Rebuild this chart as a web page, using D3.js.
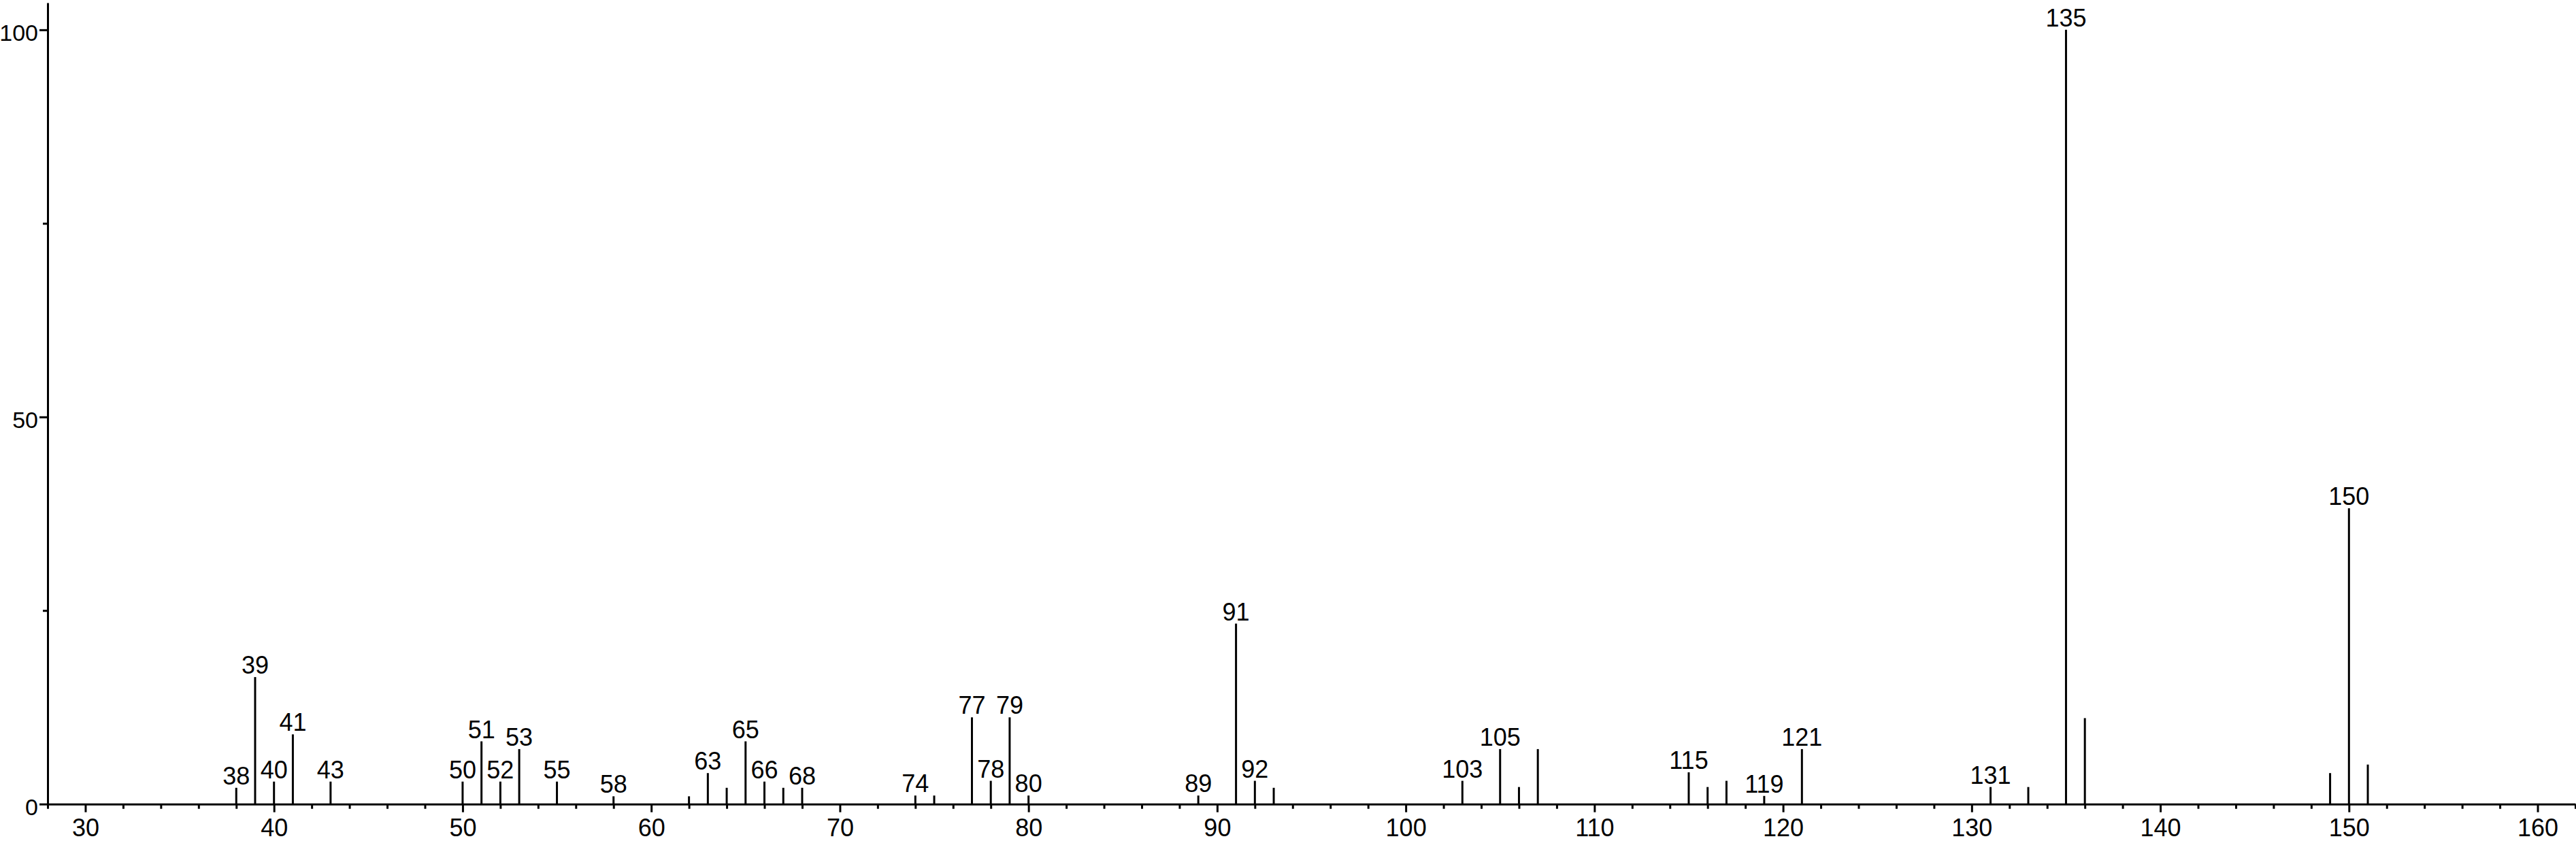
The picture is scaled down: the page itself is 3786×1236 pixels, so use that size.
<!DOCTYPE html>
<html>
<head>
<meta charset="utf-8">
<script src="https://cdn.jsdelivr.net/npm/d3@7"></script>
<style>
  html, body { margin: 0; padding: 0; background: #fff; }
  svg { display: block; }
  text { font-family: "Liberation Sans", Arial, Helvetica, sans-serif; fill: #000; }
</style>
</head>
<body>
<svg id="chart" width="3786" height="1236"></svg>
<script>
// m/z values of the peaks
const mz = [38, 39, 40, 41, 43, 50, 51, 52, 53, 55, 58, 62, 63, 64, 65, 66, 67, 68,
            74, 75, 77, 78, 79, 80, 89, 91, 92, 93, 103, 105, 106, 107, 115, 116, 117,
            119, 121, 131, 133, 135, 136, 149, 150, 151];
// relative intensities (%)
const intensity = [2.1, 16.4, 2.9, 9.0, 2.9, 2.9, 8.1, 2.9, 7.1, 2.9, 1.0, 1.0, 4.0, 2.1, 8.1, 2.9, 2.1, 2.1,
                   1.1, 1.1, 11.2, 3.0, 11.2, 1.1, 1.1, 23.3, 3.0, 2.1, 3.0, 7.1, 2.2, 7.1, 4.1, 2.2, 3.0,
                   1.05, 7.1, 2.2, 2.2, 100, 11.1, 4.0, 38.2, 5.1];
// peaks that carry a text label
const labeledPeaks = [38, 39, 40, 41, 43, 50, 51, 52, 53, 55, 58, 63, 65, 66, 68, 74, 77, 78, 79, 80,
                      89, 91, 92, 103, 105, 115, 119, 121, 131, 135, 150];
// axis ticks
const xMajorTicks = [30, 40, 50, 60, 70, 80, 90, 100, 110, 120, 130, 140, 150, 160];
const xMinorTicks = [];
for (let v = 28; v <= 162; v += 2) if (v % 10 !== 0) xMinorTicks.push(v);
const yMajorTicks = [0, 50, 100];
const yMinorTicks = [25, 75];
const xDomain = [28, 162];
const yDomain = [0, 103.5];

const peaks = mz.map((m, i) => ({ mz: m, v: intensity[i], label: labeledPeaks.includes(m) }));

const svg = d3.select("#chart");
const plotLeft = 70, plotRight = 3785, plotTop = 4, plotBottom = 1181.7;

const x = d3.scaleLinear().domain(xDomain).range([plotLeft, plotRight]);
const y = d3.scaleLinear().domain(yDomain).range([plotBottom, plotTop]);

const FS = 36;
const FS_Y = 34;

// bars (sticks)
svg.append("g").selectAll("line").data(peaks).join("line")
  .attr("x1", d => x(d.mz)).attr("x2", d => x(d.mz))
  .attr("y1", y(0)).attr("y2", d => y(d.v))
  .attr("stroke", "#000").attr("stroke-width", 3);

// peak labels
svg.append("g").selectAll("text").data(peaks.filter(d => d.label)).join("text")
  .attr("x", d => x(d.mz)).attr("y", d => y(d.v) - 5)
  .attr("text-anchor", "middle")
  .style("font-size", FS + "px")
  .text(d => d.mz);

function styleAxis(g, fs) {
  g.selectAll("path.domain").attr("stroke", "#000").attr("stroke-width", 3);
  g.selectAll(".tick line").attr("stroke", "#000").attr("stroke-width", 3);
  g.selectAll(".tick text").style("font-size", fs + "px")
    .style("font-family", '"Liberation Sans", Arial, Helvetica, sans-serif').attr("fill", "#000");
}

// x axis minor
svg.append("g").attr("transform", `translate(0,${plotBottom})`)
  .call(d3.axisBottom(x).tickValues(xMinorTicks).tickSize(7).tickFormat(""))
  .call(g => g.select("path.domain").remove())
  .call(styleAxis, FS);
// x axis major
svg.append("g").attr("transform", `translate(0,${plotBottom})`)
  .call(d3.axisBottom(x).tickValues(xMajorTicks).tickSizeInner(12).tickSizeOuter(0).tickPadding(10).tickFormat(d3.format("d")))
  .call(styleAxis, FS);

// y axis minor
svg.append("g").attr("transform", `translate(${plotLeft},0)`)
  .call(d3.axisLeft(y).tickValues(yMinorTicks).tickSize(7).tickFormat(""))
  .call(g => g.select("path.domain").remove())
  .call(styleAxis, FS_Y);
// y axis major
svg.append("g").attr("transform", `translate(${plotLeft},0)`)
  .call(d3.axisLeft(y).tickValues(yMajorTicks).tickSizeInner(12).tickSizeOuter(0).tickPadding(2).tickFormat(d3.format("d")))
  .call(styleAxis, FS_Y)
  .call(g => g.selectAll(".tick text").attr("dy", "0.45em"));
</script>
</body>
</html>
